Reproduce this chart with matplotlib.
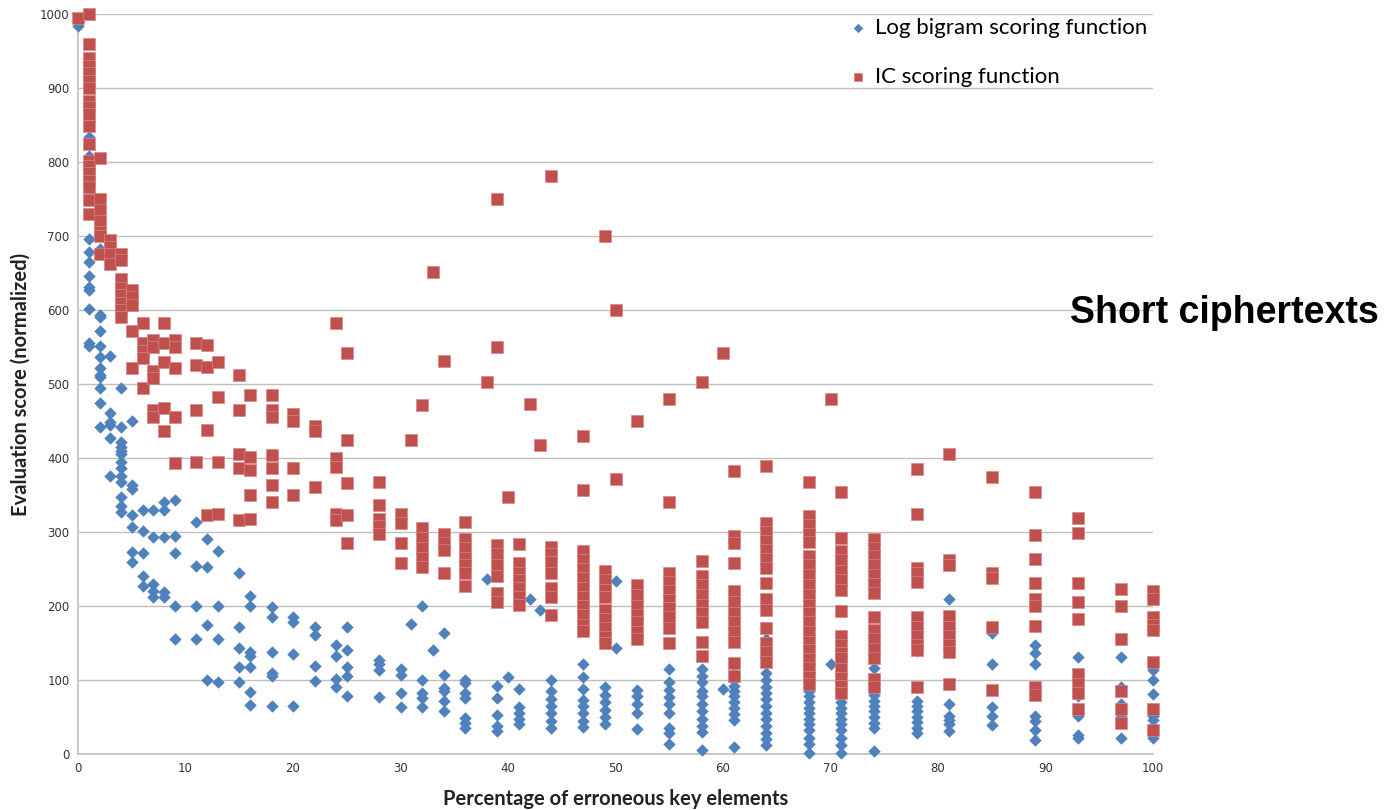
import numpy as np
import matplotlib.pyplot as plt

# percentage of erroneous key elements (x positions used in the experiment)
x_levels = [0, 1, 2, 3, 4, 5, 6, 7, 8, 9, 11, 12, 13, 15, 16, 18, 20, 22, 24, 25,
            28, 30, 31, 32, 33, 34, 36, 38, 39, 40, 41, 42, 43, 44, 47, 49, 50, 52,
            55, 58, 60, 61, 64, 68, 70, 71, 74, 78, 81, 85, 89, 93, 97, 100]

# log bigram scores, one list per x level
log_bigram = [
    [984],
    [834, 808, 759, 730, 696, 678, 665, 646, 631, 627, 602, 555, 552],
    [682, 593, 590, 571, 551, 537, 521, 512, 510, 495, 475, 442],
    [538, 461, 449, 445, 427, 376],
    [494, 442, 422, 415, 410, 406, 395, 386, 376, 367, 348, 335, 327],
    [450, 363, 358, 323, 307, 273, 260],
    [330, 302, 271, 240, 227],
    [330, 293, 230, 220, 212],
    [341, 330, 293, 219, 212],
    [343, 294, 271, 200, 156],
    [313, 254, 200, 156],
    [290, 253, 174, 100],
    [274, 200, 155, 98],
    [244, 171, 143, 118, 98],
    [214, 200, 138, 132, 117, 84, 66],
    [199, 185, 138, 110, 105, 65],
    [185, 179, 135, 65],
    [171, 161, 119, 99],
    [147, 133, 101, 91],
    [171, 141, 118, 105, 78],
    [127, 121, 114, 77],
    [115, 107, 82, 64],
    [176],
    [200, 100, 82, 76, 63],
    [140],
    [164, 107, 89, 85, 71, 58],
    [100, 96, 82, 76, 49, 42, 35],
    [237],
    [92, 76, 53, 38, 31],
    [104],
    [88, 64, 55, 47, 40],
    [209],
    [194],
    [100, 85, 75, 65, 55, 45, 35],
    [121, 104, 88, 73, 65, 55, 45, 37],
    [91, 80, 70, 60, 50, 40],
    [234, 143],
    [87, 78, 68, 55, 34],
    [115, 98, 87, 77, 67, 55, 35, 28, 13],
    [115, 105, 98, 85, 78, 68, 58, 48, 38, 30, 6],
    [88],
    [109, 100, 92, 85, 78, 70, 62, 54, 46, 10],
    [155, 109, 100, 90, 82, 75, 65, 56, 48, 38, 28, 20, 12],
    [91, 85, 78, 70, 62, 55, 48, 40, 32, 22, 14, 2],
    [122],
    [127, 78, 70, 62, 55, 48, 40, 32, 22, 12, 2],
    [116, 87, 80, 72, 65, 58, 50, 42, 35, 4],
    [139, 71, 65, 58, 50, 43, 35, 28],
    [210, 67, 51, 46, 40, 31],
    [164, 121, 64, 52, 39],
    [147, 137, 121, 51, 45, 33, 19],
    [131, 79, 51, 26, 22],
    [131, 91, 68, 50, 22],
    [114, 100, 81, 51, 46, 22],
]

# IC scores, one list per x level
ic_scores = [
    [995],
    [1000, 959, 940, 930, 920, 910, 900, 883, 875, 865, 849, 825, 802, 795, 785, 775, 766, 748, 730],
    [806, 750, 735, 720, 705, 700, 676],
    [695, 685, 676, 662],
    [676, 668, 642, 630, 620, 610, 600, 590],
    [627, 617, 607, 571, 522],
    [582, 555, 545, 535, 494],
    [560, 550, 518, 508, 465, 455],
    [582, 555, 530, 467, 436],
    [560, 550, 521, 456, 393],
    [556, 526, 465, 395],
    [553, 523, 438, 323],
    [530, 483, 395, 325],
    [512, 465, 406, 386, 316],
    [485, 402, 384, 350, 318],
    [485, 465, 456, 404, 386, 364, 341],
    [459, 450, 386, 350],
    [443, 437, 361],
    [583, 400, 388, 325, 316],
    [542, 424, 366, 323, 285],
    [368, 337, 318, 308, 298],
    [325, 312, 285, 258],
    [424],
    [471, 306, 292, 278, 265, 253],
    [651],
    [531, 298, 285, 276, 245],
    [314, 290, 278, 265, 255, 245, 227],
    [503],
    [750, 550, 283, 270, 255, 240, 218, 205],
    [347],
    [284, 258, 245, 235, 225, 212, 202],
    [473],
    [418],
    [781, 280, 270, 260, 245, 225, 212, 188],
    [430, 357, 275, 262, 250, 238, 225, 212, 200, 188, 175, 166],
    [700, 248, 235, 222, 212, 195, 182, 170, 158, 150],
    [600, 371],
    [450, 228, 215, 200, 188, 178, 165, 156],
    [480, 341, 245, 232, 220, 208, 198, 185, 170, 150],
    [503, 261, 240, 228, 215, 202, 190, 178, 152, 132],
    [542],
    [382, 295, 285, 258, 220, 205, 190, 178, 165, 152, 123, 105],
    [389, 312, 300, 288, 276, 264, 252, 231, 210, 195, 170, 150, 138, 125],
    [368, 322, 310, 298, 286, 268, 255, 242, 228, 215, 202, 190, 178, 165, 152, 140, 128, 116, 104, 95],
    [480],
    [354, 292, 275, 262, 248, 235, 222, 193, 160, 148, 137, 130, 115, 103, 92, 82],
    [290, 278, 268, 255, 242, 230, 218, 185, 168, 155, 142, 130, 102, 90],
    [385, 324, 252, 245, 232, 185, 172, 160, 148, 141, 91],
    [406, 262, 255, 186, 172, 160, 148, 138, 95],
    [374, 245, 238, 172, 86],
    [354, 296, 263, 231, 210, 200, 173, 90, 80],
    [319, 299, 231, 205, 182, 108, 95, 82, 61],
    [223, 200, 155, 85, 61, 42],
    [220, 210, 185, 175, 168, 125, 61, 33],
]

x_ticks = list(range(0, 101, 10))
y_ticks = list(range(0, 1001, 100))


def flatten(levels, groups):
    xs = np.repeat(levels, [len(g) for g in groups])
    ys = np.concatenate([np.array(g, dtype=float) for g in groups])
    return xs, ys


bx, by = flatten(x_levels, log_bigram)
rx, ry = flatten(x_levels, ic_scores)

fig = plt.figure(figsize=(13.88, 8.10), dpi=100)
ax = fig.add_axes([0.0562, 0.0691, 0.7745, 0.9136])

ax.scatter(bx, by, marker='D', s=40, color='#4F81BD', linewidths=0,
           clip_on=False, zorder=3, label='Log bigram scoring function')
ax.scatter(rx, ry, marker='s', s=64, color='#C0504D', edgecolors='#D88684',
           linewidths=0.5, clip_on=False, zorder=4, label='IC scoring function')

ax.set_xlim(0, 100)
ax.set_ylim(0, 1000)
ax.set_xticks(x_ticks)
ax.set_yticks(y_ticks)
ax.tick_params(length=0, labelsize=8.5, colors='#333333', pad=6)
ax.grid(axis='y', color='#BFBFBF', linewidth=1)
ax.set_axisbelow(True)
for s in ['top', 'right']:
    ax.spines[s].set_visible(False)
for s in ['left', 'bottom']:
    ax.spines[s].set_color('#BFBFBF')
    ax.spines[s].set_linewidth(1.2)

ax.set_xlabel('Percentage of erroneous key elements', fontsize=14.5,
              fontweight='bold', family='Lato', color='#222222', labelpad=10)
ax.set_ylabel('Evaluation score (normalized)', fontsize=14.5,
              fontweight='bold', family='Lato', color='#222222', labelpad=7)

leg = ax.legend(loc='upper left', bbox_to_anchor=(0.695, 1.022), frameon=False,
                prop={'family': 'Lato', 'size': 16}, handletextpad=0.15,
                labelspacing=1.3, markerscale=0.75, handlelength=1.2)

fig.text(0.9935, 0.613, 'Short ciphertexts', ha='right', va='center',
         fontsize=27, fontweight='bold', family='Liberation Sans')

fig.savefig('out.png', dpi=100)
